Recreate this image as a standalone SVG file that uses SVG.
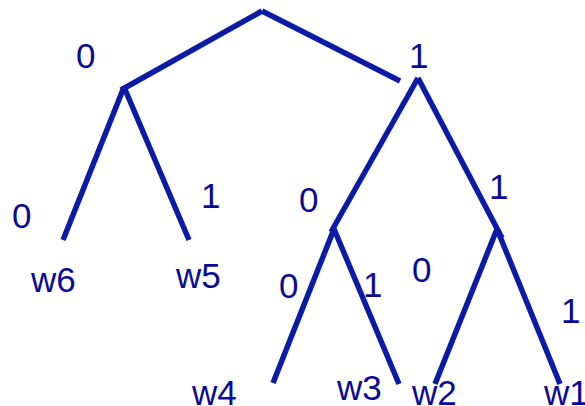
<svg xmlns="http://www.w3.org/2000/svg" width="585" height="406" viewBox="0 0 585 406">
<style>
.e{stroke:#0c1ba6;stroke-width:5.5;fill:none;stroke-linecap:butt}
.t{font-family:"Liberation Sans",Arial,sans-serif;font-size:35px;fill:#0a0a96}
</style>
<rect width="585" height="406" fill="#fff"/>
<g id="connectors">
<line class="e" x1="262" y1="11" x2="121" y2="90"/>
<line class="e" x1="262" y1="11" x2="400" y2="81"/>
<line class="e" x1="124" y1="87" x2="63" y2="240"/>
<line class="e" x1="124" y1="87" x2="189" y2="240"/>
<line class="e" x1="418" y1="78" x2="331" y2="232"/>
<line class="e" x1="418" y1="78" x2="502" y2="238"/>
<line class="e" x1="334" y1="229" x2="273" y2="383"/>
<line class="e" x1="334" y1="229" x2="399" y2="384"/>
<line class="e" x1="497" y1="229" x2="435" y2="384"/>
<line class="e" x1="497" y1="229" x2="560" y2="384"/>
</g>
<g id="root"><text class="t" x="76" y="68">0</text><text class="t" x="409" y="68">1</text></g>
<g id="left"><text class="t" x="12" y="228">0</text><text class="t" x="201" y="208">1</text></g>
<g id="right"><text class="t" x="299" y="212">0</text><text class="t" x="489" y="199">1</text></g>
<g id="rl"><text class="t" x="279" y="298">0</text><text class="t" x="363" y="297">1</text></g>
<g id="rr"><text class="t" x="412" y="282">0</text><text class="t" x="561" y="323">1</text></g>
<g id="w6"><text class="t" x="31" y="292">w6</text></g>
<g id="w5"><text class="t" x="176" y="288">w5</text></g>
<g id="w4"><text class="t" x="192" y="405">w4</text></g>
<g id="w3"><text class="t" x="337" y="400">w3</text></g>
<g id="w2"><text class="t" x="412" y="405">w2</text></g>
<g id="w1"><text class="t" x="544" y="405">w1</text></g>
</svg>
